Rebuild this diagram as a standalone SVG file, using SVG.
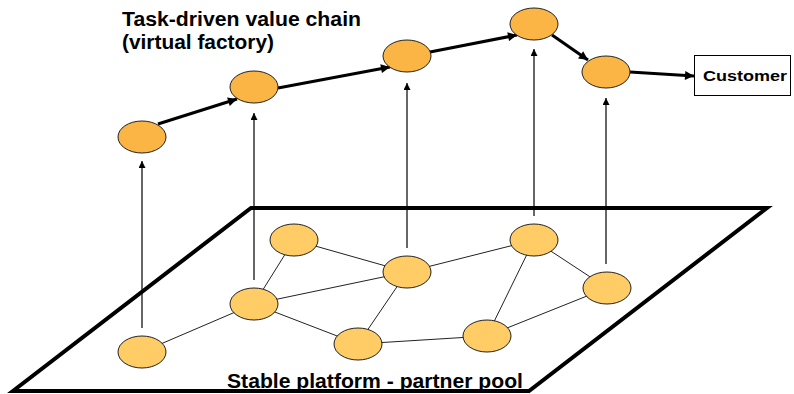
<svg xmlns="http://www.w3.org/2000/svg" width="794" height="394" viewBox="0 0 794 394">
<style>
.top{fill:#FBB545;stroke:#222;stroke-width:1}
.bot{fill:#FFCC66;stroke:#222;stroke-width:1}
.edge{stroke:#222;stroke-width:1;fill:none}
.up{stroke:#000;stroke-width:1.2;fill:none;marker-end:url(#thin)}
.chain{stroke:#000;stroke-width:3;fill:none;marker-end:url(#thick)}
.t{font-family:"Liberation Sans",Arial,sans-serif;font-weight:bold;fill:#000}
</style>
<defs>
<marker id="thin" viewBox="0 0 10 10" refX="10" refY="5" markerWidth="8" markerHeight="7" markerUnits="userSpaceOnUse" orient="auto"><path d="M0,0 L10,5 L0,10 z" fill="#000"/></marker>
<marker id="thick" viewBox="0 0 10 10" refX="10" refY="5" markerWidth="11" markerHeight="9" markerUnits="userSpaceOnUse" orient="auto"><path d="M0,0 L10,5 L0,10 z" fill="#000"/></marker>
</defs>
<rect width="794" height="394" fill="#fff"/>
<g id="platform">
<polygon points="251,208 767,208 529,391 13,391" fill="#fff" stroke="#000" stroke-width="4" stroke-linejoin="miter"/>
<text class="t" x="227" y="388" font-size="20" textLength="296" lengthAdjust="spacingAndGlyphs">Stable platform - partner pool</text>
</g>
<g id="title">
<text class="t" x="122" y="26" font-size="20" textLength="239" lengthAdjust="spacingAndGlyphs">Task-driven value chain</text>
<text class="t" x="122" y="49" font-size="20" textLength="152" lengthAdjust="spacingAndGlyphs">(virtual factory)</text>
</g>
<g id="connectors">
<line class="edge" x1="142" y1="352" x2="254" y2="304"/>
<line class="edge" x1="254" y1="304" x2="294" y2="240"/>
<line class="edge" x1="254" y1="304" x2="407" y2="272"/>
<line class="edge" x1="254" y1="304" x2="358" y2="344"/>
<line class="edge" x1="294" y1="240" x2="407" y2="272"/>
<line class="edge" x1="407" y1="272" x2="534" y2="240"/>
<line class="edge" x1="407" y1="272" x2="358" y2="344"/>
<line class="edge" x1="358" y1="344" x2="487" y2="336"/>
<line class="edge" x1="534" y1="240" x2="487" y2="336"/>
<line class="edge" x1="534" y1="240" x2="607" y2="288"/>
<line class="edge" x1="607" y1="288" x2="487" y2="336"/>
<line class="up" x1="142" y1="328" x2="142" y2="161"/>
<line class="up" x1="254" y1="280" x2="254" y2="113"/>
<line class="up" x1="407" y1="248" x2="407" y2="83"/>
<line class="up" x1="534" y1="216" x2="534" y2="49"/>
<line class="up" x1="606" y1="264" x2="606" y2="98"/>
<line class="chain" x1="158" y1="124" x2="237" y2="99"/>
<line class="chain" x1="278" y1="88" x2="390" y2="67"/>
<line class="chain" x1="430" y1="52" x2="517" y2="35"/>
<line class="chain" x1="552" y1="35" x2="588" y2="60"/>
<line class="chain" x1="630" y1="72" x2="694" y2="76"/>
</g>
<g id="b1"><ellipse class="bot" cx="142" cy="352" rx="24" ry="16"/></g>
<g id="b2"><ellipse class="bot" cx="254" cy="304" rx="24" ry="16"/></g>
<g id="b3"><ellipse class="bot" cx="294" cy="240" rx="24" ry="16"/></g>
<g id="b4"><ellipse class="bot" cx="407" cy="272" rx="24" ry="16"/></g>
<g id="b5"><ellipse class="bot" cx="358" cy="344" rx="24" ry="16"/></g>
<g id="b6"><ellipse class="bot" cx="534" cy="240" rx="24" ry="16"/></g>
<g id="b7"><ellipse class="bot" cx="607" cy="288" rx="24" ry="16"/></g>
<g id="b8"><ellipse class="bot" cx="487" cy="336" rx="24" ry="16"/></g>
<g id="n1"><ellipse class="top" cx="142" cy="137" rx="24" ry="16"/></g>
<g id="n2"><ellipse class="top" cx="254" cy="87" rx="24" ry="16"/></g>
<g id="n3"><ellipse class="top" cx="407" cy="56" rx="24" ry="16"/></g>
<g id="n4"><ellipse class="top" cx="534" cy="24" rx="24" ry="16"/></g>
<g id="n5"><ellipse class="top" cx="606" cy="72" rx="24" ry="16"/></g>
<g id="customer">
<rect x="694.5" y="55.5" width="96" height="40" fill="#fff" stroke="#000" stroke-width="1"/>
<text class="t" x="703" y="81" font-size="15" textLength="84" lengthAdjust="spacingAndGlyphs">Customer</text>
</g>
</svg>
